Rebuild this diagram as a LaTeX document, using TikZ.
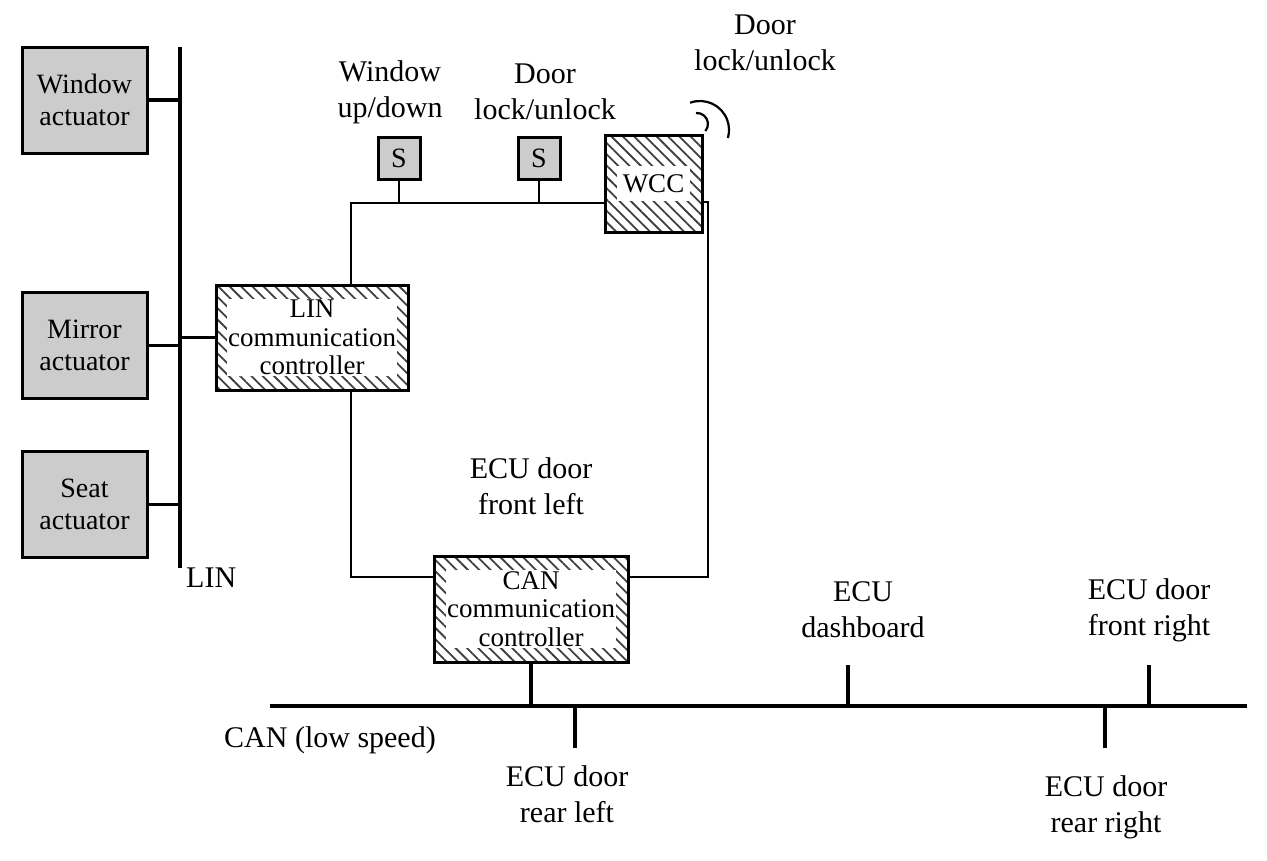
\documentclass[tikz,border=0pt]{standalone}
\usepackage{fontspec}
\setmainfont{Liberation Serif}
\usetikzlibrary{patterns.meta}
\begin{document}
\begin{tikzpicture}[x=1pt,y=-1pt, font=\fontsize{30}{36}\selectfont,
  act/.style={draw, line width=3pt, fill=gray!40, minimum width=125pt, minimum height=106pt, align=center, inner sep=0pt, font=\fontsize{28}{32}\selectfont},
  sbox/.style={draw, line width=3pt, fill=gray!40, minimum size=42pt, inner sep=0pt, font=\fontsize{28}{32}\selectfont},
  hatch/.style={draw, line width=3pt, inner sep=0pt, pattern={Lines[angle=-45,distance=8pt,line width=1.8pt]}, pattern color=gray!50!black},
  blank/.style={fill=white, inner sep=1pt, align=center, font=\fontsize{27}{28.5}\selectfont},
  lbl/.style={align=center, inner sep=0pt},
  bus/.style={line width=4pt},
  stub/.style={line width=3.2pt},
  wire/.style={line width=2.2pt},
]
\useasboundingbox (0,0) rectangle (1267,860);

% actuators
\node[act] (wa) at (84.5,100) {Window\\actuator};
\node[act] (ma) at (84.5,345.5) {Mirror\\actuator};
\node[act] (sa) at (84.5,504.5) {Seat\\actuator};

% LIN bus
\coordinate (linT) at (180,47);
\coordinate (linB) at (180,568);
\draw[bus] (linT) -- (linB);
\node[lbl, anchor=west] (linlbl) at (186,578) {LIN};
\draw[stub] (wa.east) -- (wa.east -| linT);
\draw[stub] (ma.east) -- (ma.east -| linT);
\draw[stub] (sa.east) -- (sa.east -| linT);

% controllers
\node[hatch, minimum width=192pt, minimum height=105pt] (lin) at (312,337.5) {};
\node[blank] (lintxt) at (lin) {LIN\\communication\\controller};
\node[hatch, minimum width=194pt, minimum height=106pt] (can) at (531,609) {};
\node[blank] (cantxt) at (can) {CAN\\communication\\controller};
\node[hatch, minimum width=97pt, minimum height=97pt] (wcc) at (653.5,183.5) {};
\node[blank, inner xsep=6pt, inner ysep=8pt] (wcctxt) at (wcc) {WCC};
\draw[stub] (lin.west) -- (lin.west -| linT);

% switches
\node[sbox] (s1) at (399,158) {S};
\node[sbox] (s2) at (539,158) {S};
\node[lbl] (s1lbl) at (390,92) {Window\\up/down};
\node[lbl] (s2lbl) at (545,92) {Door\\lock/unlock};
\node[lbl] (wcclbl) at (765,43) {Door\\lock/unlock};

% internal wiring
\coordinate (c1) at (351,203);
\coordinate (c2) at (708,202);
\coordinate (c3) at (708,577);
\coordinate (c4) at (351,577);
\draw[wire] (lin.north -| c1) -- (c1) -- (c1 -| wcc.west);
\draw[wire] (s1.south) -- (s1.south |- c1);
\draw[wire] (s2.south) -- (s2.south |- c1);
\draw[wire] (c2 -| wcc.east) -- (c2) -- (c3) -- (c3 -| can.east);
\draw[wire] (lin.south -| c4) -- (c4) -- (c4 -| can.west);

% wireless symbol
\draw[wire] (696.0,113.0) arc[start angle=-95, end angle=40, radius=11];
\draw[wire] (690.1,102.75) arc[start angle=-110, end angle=16, radius=29];

\node[lbl] (ecufl) at (531,486) {ECU door\\front left};

% CAN bus
\coordinate (canL) at (270,706);
\coordinate (canR) at (1247,706);
\draw[bus] (canL) -- (canR);
\node[lbl] (canlbl) at (330,740) {CAN (low speed)};
\draw[stub] (can.south) -- (can.south |- canL);

\coordinate (d1) at (575,748);
\coordinate (d2) at (848,665);
\coordinate (d3) at (1149,665);
\coordinate (d4) at (1105,748);
\draw[stub] (d1) -- (d1 |- canL);
\draw[stub] (d2) -- (d2 |- canL);
\draw[stub] (d3) -- (d3 |- canL);
\draw[stub] (d4) -- (d4 |- canL);

\node[lbl] (ecurl) at (567,794) {ECU door\\rear left};
\node[lbl] (ecud) at (863,610) {ECU\\dashboard};
\node[lbl] (ecufr) at (1149,610) {ECU door\\front right};
\node[lbl] (ecurr) at (1106,807) {ECU door\\rear right};
\end{tikzpicture}
\end{document}
